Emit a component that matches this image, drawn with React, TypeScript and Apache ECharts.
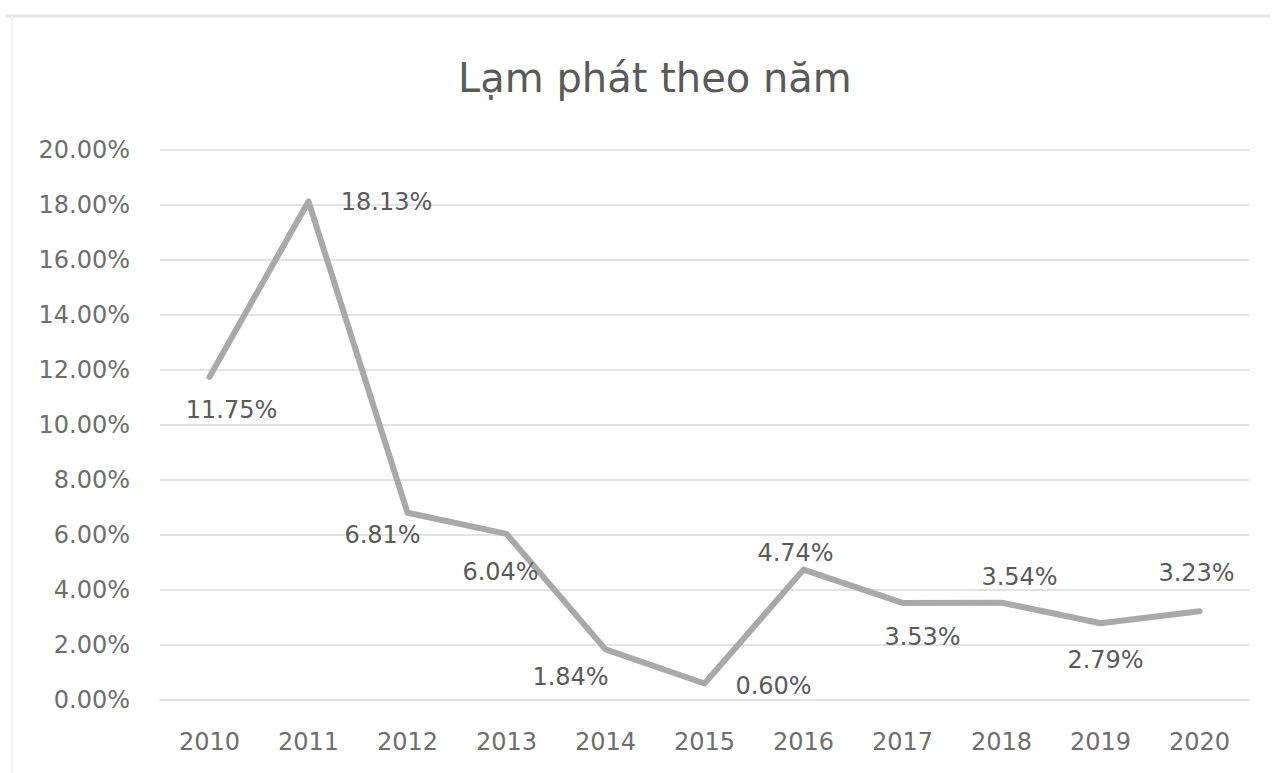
import React, { useEffect, useRef } from "react";
import * as echarts from "echarts";

const TITLE = "Lạm phát theo năm";
const years = ["2010", "2011", "2012", "2013", "2014", "2015", "2016", "2017", "2018", "2019", "2020"];
const inflation = [11.75, 18.13, 6.81, 6.04, 1.84, 0.6, 4.74, 3.53, 3.54, 2.79, 3.23];
// label offsets (dx, dy) relative to each point, as placed in the reference
const labelOffsets: number[][] = [
  [22, 33], [78, 1], [-25, 22], [-6, 38], [-35, 28], [69, 2],
  [-8, -17], [20, 34], [18, -26], [5, 37], [-3, -38],
];

const FONT = "DejaVu Sans";

export default function App() {
  const ref = useRef<HTMLDivElement>(null);
  useEffect(() => {
    document.body.style.margin = "0";
    const chart = echarts.init(ref.current!, null, { renderer: "svg" });
    chart.setOption({
      animation: false,
      backgroundColor: "#ffffff",
      title: {
        text: TITLE,
        left: 453,
        top: 53,
        textStyle: { fontFamily: FONT, fontSize: 40, fontWeight: "normal", color: "#5a5a5a" },
      },
      graphic: [
        { type: "line", shape: { x1: 5, y1: 16, x2: 1270, y2: 16 }, style: { stroke: "#e6e6e6", lineWidth: 3 } },
        { type: "line", shape: { x1: 12, y1: 16, x2: 12, y2: 773 }, style: { stroke: "#f2f2f2", lineWidth: 2 } },
      ],
      grid: { left: 160, right: 27, top: 150, bottom: 73 },
      xAxis: {
        type: "category",
        data: years,
        boundaryGap: true,
        axisLine: { show: true, lineStyle: { color: "#e3e3e3", width: 2 } },
        axisTick: { show: false },
        axisLabel: { fontFamily: FONT, fontSize: 24, color: "#6e6e6e", margin: 30 },
      },
      yAxis: {
        type: "value",
        min: 0,
        max: 20,
        interval: 2,
        axisLine: { show: false },
        axisTick: { show: false },
        axisLabel: {
          fontFamily: FONT,
          fontSize: 24,
          color: "#6e6e6e",
          margin: 30,
          formatter: (v: number) => v.toFixed(2) + "%",
        },
        splitLine: { lineStyle: { color: "#e3e3e3", width: 2 } },
      },
      series: [
        {
          type: "line",
          data: inflation.map((v, i) => ({
            value: v,
            label: { offset: labelOffsets[i] },
          })),
          symbol: "circle",
          symbolSize: 1,
          showSymbol: true,
          itemStyle: { color: "#a9a9a9" },
          lineStyle: { color: "#a9a9a9", width: 6, join: "round", cap: "round" },
          label: {
            show: true,
            position: "inside",
            fontFamily: FONT,
            fontSize: 24,
            color: "#5a5a5a",
            formatter: (p: any) => Number(p.value).toFixed(2) + "%",
          },
        },
      ],
    });
    return () => chart.dispose();
  }, []);
  return <div ref={ref} style={{ width: 1276, height: 773 }} />;
}
